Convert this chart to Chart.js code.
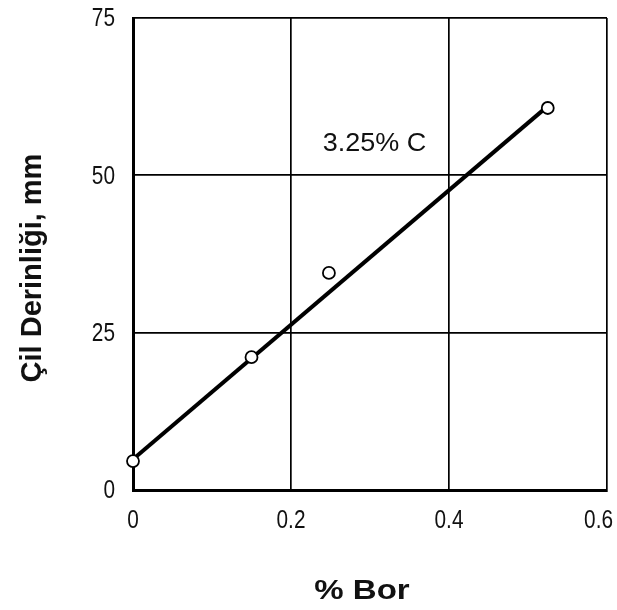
<!DOCTYPE html>
<html>
<head>
<meta charset="utf-8">
<script src="https://cdn.jsdelivr.net/npm/chart.js@4/dist/chart.umd.min.js"></script>
<style>
  html, body { margin: 0; padding: 0; background: #fff; }
  #wrap { width: 617px; height: 610px; }
</style>
</head>
<body>
<div id="wrap"><canvas id="c" width="617" height="610"></canvas></div>
<script>
// Boron content (%) and chill depth (mm)
const boronPct = [0, 0.15, 0.248, 0.525];
const chillDepth = [4.6, 21.1, 34.5, 60.7];

// Fitted trend line end points
const fitBoron = [0, 0.525];
const fitDepth = [4.9, 61.0];

// Axis ticks
const xTicks = [0, 0.2, 0.4, 0.6];
const yTicks = [0, 25, 50, 75];

// Axis titles and curve label
const xTitle = '% Bor';
const yTitle = 'Çil Derinliği, mm';
const curveLabel = '3.25% C';
const curveLabelPos = [0.3057, 55.0];

const INK = '#111';

// Draw text with a horizontal stretch factor (condensed / extended faces)
function stretchedText(ctx, text, x, y, font, sx, align, baseline, rot) {
  ctx.save();
  ctx.translate(x, y);
  if (rot) ctx.rotate(rot);
  ctx.scale(sx, 1);
  ctx.font = font;
  ctx.fillStyle = INK;
  ctx.textAlign = align;
  ctx.textBaseline = baseline;
  ctx.fillText(text, 0, 0);
  ctx.restore();
}

const textPlugin = {
  id: 'axisText',
  afterDraw(chart) {
    const { ctx, scales, chartArea } = chart;
    const tickFont = '26px "Liberation Sans", Arial, sans-serif';
    // x tick labels, placed from the x scale's own ticks; the last one is kept inside the canvas
    const xt = scales.x.ticks;
    xt.forEach((t, i) => {
      const px = scales.x.getPixelForValue(t.value);
      const lbl = t.value === 0 ? '0' : t.value.toFixed(1);
      const last = i === xt.length - 1;
      stretchedText(ctx, lbl, last ? px + 6 : px, chartArea.bottom + 31, tickFont, 0.8,
        last ? 'right' : 'center', 'middle');
    });
    // y tick labels, placed from the y scale's own ticks
    scales.y.ticks.forEach(t => {
      const py = scales.y.getPixelForValue(t.value);
      stretchedText(ctx, String(t.value), chartArea.left - 18, py + 1, tickFont, 0.8, 'right', 'middle');
    });
    // axis titles
    const titleX = (chartArea.left + chartArea.right) / 2 - 8;
    stretchedText(ctx, xTitle, titleX, 591, 'bold 28px "Liberation Sans", Arial, sans-serif', 1.18, 'center', 'middle');
    stretchedText(ctx, yTitle, 33, 268, 'bold 29px "Liberation Sans", Arial, sans-serif', 1.0, 'center', 'middle', -Math.PI / 2);
  },
  afterDatasetsDraw(chart) {
    const { ctx, scales } = chart;
    const x = scales.x.getPixelForValue(curveLabelPos[0]);
    const y = scales.y.getPixelForValue(curveLabelPos[1]);
    stretchedText(ctx, curveLabel, x, y, '25px "Liberation Sans", Arial, sans-serif', 1.08, 'center', 'middle');
  }
};

new Chart(document.getElementById('c'), {
  type: 'scatter',
  data: {
    datasets: [
      {
        data: fitBoron.map((b, i) => ({ x: b, y: fitDepth[i] })),
        showLine: true,
        borderColor: '#000',
        borderWidth: 4,
        pointRadius: 0,
        order: 2
      },
      {
        data: boronPct.map((b, i) => ({ x: b, y: chillDepth[i] })),
        showLine: false,
        pointRadius: 6,
        pointBackgroundColor: '#fff',
        pointBorderColor: '#000',
        pointBorderWidth: 1.8,
        order: 1
      }
    ]
  },
  options: {
    responsive: false,
    animation: false,
    clip: false,
    layout: { padding: { top: 18, right: 10, left: 0, bottom: 0 } },
    plugins: { legend: { display: false }, tooltip: { enabled: false } },
    scales: {
      x: {
        type: 'linear',
        min: 0, max: 0.6,
        afterBuildTicks(scale) { scale.ticks = xTicks.map(v => ({ value: v })); },
        afterFit(scale) {
          scale.height = 120;
          scale.paddingLeft = 0; scale.paddingRight = 0;
        },
        ticks: { display: false },
        grid: { color: '#000', lineWidth: 1.7, drawTicks: false },
        border: { color: '#000', width: 3 }
      },
      y: {
        type: 'linear',
        min: 0, max: 75,
        afterBuildTicks(scale) { scale.ticks = yTicks.map(v => ({ value: v })); },
        afterFit(scale) {
          scale.width = 133;
          scale.paddingTop = 0; scale.paddingBottom = 0;
        },
        ticks: { display: false },
        grid: { color: '#000', lineWidth: 1.7, drawTicks: false },
        border: { color: '#000', width: 3 }
      }
    }
  },
  plugins: [textPlugin]
});
</script>
</body>
</html>
